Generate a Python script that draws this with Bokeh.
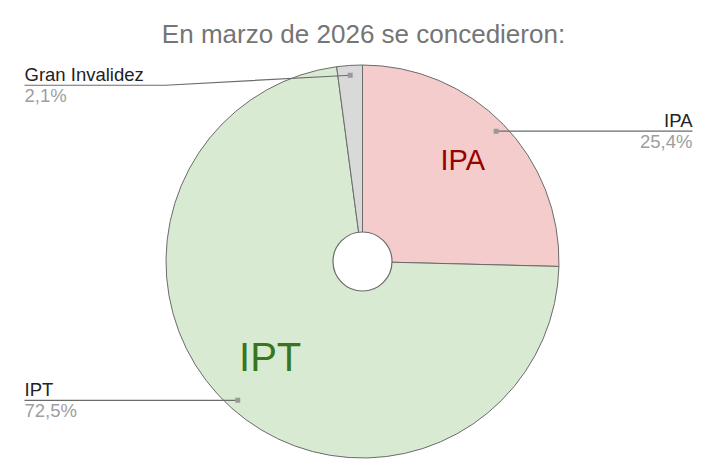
import numpy as np
from bokeh.plotting import figure
from bokeh.models import Range1d
from bokeh.core.properties import value
from bokeh.embed import file_html
from bokeh.resources import INLINE

# ---- data ----
title_text = "En marzo de 2026 se concedieron:"
categories = ["IPA", "IPT", "Gran Invalidez"]
shares = [25.4, 72.5, 2.1]
pct_labels = ["25,4%", "72,5%", "2,1%"]

# ---- styles / layout ----
fill_colors = ["#f4cccc", "#d9ead3", "#d9d9d9"]
inner_text_colors = ["#990000", "#38761d", None]
inner_font_sizes = ["29px", "40px", None]
inner_radius_frac = [0.72, 0.665, None]
inner_offsets = [(-1, 3), (-5, 2), None]
label_side = ["right", "left", "left"]
label_drop = [0, 0, 10]
FONT = "Liberation Sans"

W, H = 693, 460
cx, cy = 362.0, -261.0
R = 196.5
HOLE = 29.5
RIGHT_X = 692
LEFT_X = 24

p = figure(width=W, height=H, x_range=Range1d(0, W), y_range=Range1d(-H, 0),
           output_backend="svg", toolbar_location=None, min_border=0,
           x_axis_type=None, y_axis_type=None)
p.grid.visible = False
p.outline_line_color = None
p.background_fill_color = "white"
p.border_fill_color = "white"

total = float(sum(shares))
cum = np.concatenate([[0.0], np.cumsum(shares) / total])
starts = [np.pi / 2 - 2 * np.pi * cum[i + 1] for i in range(len(shares))]
ends = [np.pi / 2 - 2 * np.pi * cum[i] for i in range(len(shares))]
mids = [np.pi / 2 - np.pi * (cum[i] + cum[i + 1]) for i in range(len(shares))]

p.wedge(x=[cx] * len(shares), y=[cy] * len(shares), radius=R,
        start_angle=starts, end_angle=ends, direction="anticlock",
        fill_color=fill_colors, line_color="#6b6b6b", line_width=1)

# donut hole
p.circle(x=[cx], y=[cy], radius=HOLE, fill_color="white", line_color="#6b6b6b", line_width=1.2)

# inner labels
for i, name in enumerate(categories):
    if inner_radius_frac[i] is None:
        continue
    rr = R * inner_radius_frac[i]
    ox, oy = inner_offsets[i]
    p.text(x=[cx + rr * np.cos(mids[i]) + ox], y=[cy + rr * np.sin(mids[i]) + oy], text=[name],
           text_align="center", text_baseline="middle",
           text_font=value(FONT), text_font_size=inner_font_sizes[i],
           text_color=inner_text_colors[i])

# leader lines and outside labels
dot_x, dot_y = [], []
for i, name in enumerate(categories):
    dx = cx + 0.95 * R * np.cos(mids[i])
    dy = cy + 0.95 * R * np.sin(mids[i])
    dot_x.append(dx)
    dot_y.append(dy)
    ly = dy - label_drop[i]
    if label_side[i] == "right":
        xs = [dx, RIGHT_X]
        ys = [dy, ly]
        tx, align = RIGHT_X, "right"
    else:
        if label_drop[i]:
            xs = [dx, 165, LEFT_X]
            ys = [dy, ly, ly]
        else:
            xs = [dx, LEFT_X]
            ys = [dy, ly]
        tx, align = LEFT_X, "left"
    p.line(x=xs, y=ys, line_color="#6b6b6b", line_width=1.2)
    p.text(x=[tx], y=[ly + 11], text=[name], text_align=align, text_baseline="middle",
           text_font=value(FONT), text_font_size="18.5px", text_color="#222222")
    p.text(x=[tx], y=[ly - 10.5], text=[pct_labels[i]], text_align=align, text_baseline="middle",
           text_font=value(FONT), text_font_size="18.5px", text_color="#9e9e9e")

p.scatter(x=dot_x, y=dot_y, size=5, marker="square", fill_color="#999999", line_color=None)

# title
p.text(x=[363], y=[-33.5], text=[title_text], text_align="center", text_baseline="middle",
       text_font=value(FONT), text_font_size="26px", text_color="#757575")

open("out.html", "w").write(file_html(p, INLINE))
